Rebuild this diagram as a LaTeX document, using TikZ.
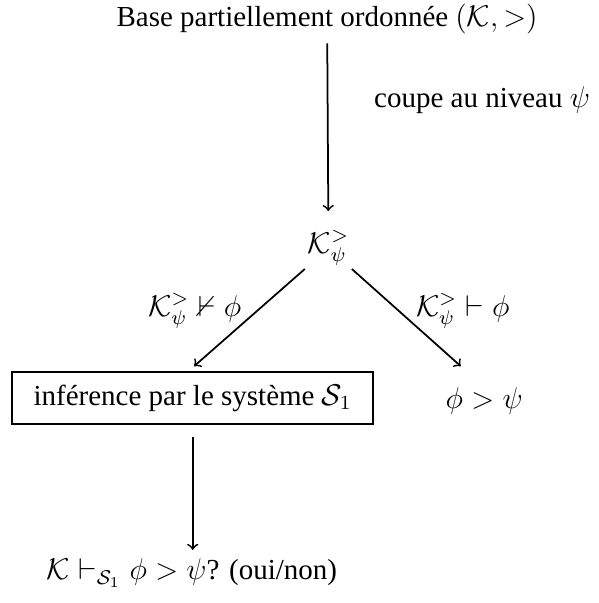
\documentclass[tikz,border=0pt]{standalone}
\usepackage{amsthm, amsmath, amssymb}
\usepackage{fontspec}
\setmainfont{Liberation Serif}
\usepackage{tikz}

\begin{document}
\begin{tikzpicture}[font=\fontsize{11.6}{14}\selectfont, line width=0.7pt]
            \useasboundingbox (0,0) rectangle (8.41,8.48);

            % Nodes
            \node (top) at (4.60,8.21) {Base partiellement ordonnée $(\mathcal{K},>)$};
            \node (cut) at (6.78,7.07) {coupe au niveau $\psi$};
            \node[inner sep=1pt] (kpsi) at (4.62,4.99) {$\mathcal{K}_\psi^>$};
            \node (nder) at (2.74,4.11) {$\mathcal{K}_\psi^> \nvdash \phi$};
            \node (der) at (6.51,4.11) {$\mathcal{K}_\psi^> \vdash \phi$};
            \node[draw, inner xsep=8.5pt, inner ysep=5pt] (infer) at (2.71,2.88) {inférence par le système $\mathcal{S}_1$};
            \node (phipsi) at (6.81,2.84) {$\phi > \psi$};
            \node (result) at (2.70,0.42) {$\mathcal{K} \vdash_{\mathcal{S}_1} \phi > \psi$? (oui/non)};
            \coordinate (lend) at (2.73,3.33);
            \coordinate (rend) at (6.48,3.33);

            % Edges
            \draw[->, shorten >=6.5pt] (top) -- (kpsi);
            \draw[->] (kpsi) -- (lend);
            \draw[->] (kpsi) -- (rend);
            \draw[->, shorten <=5pt] (infer.south) -- (infer.south |- result.north);
        \end{tikzpicture}
\end{document}
